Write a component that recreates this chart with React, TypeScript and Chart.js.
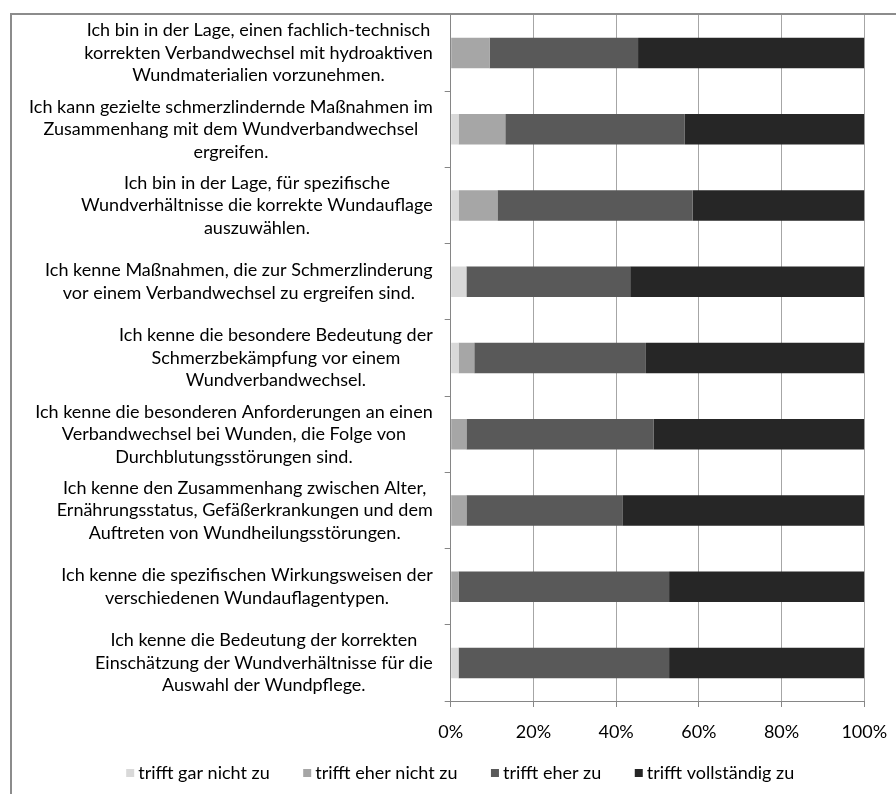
import React, { useEffect, useRef } from "react";
import { Chart, registerables } from "chart.js";

Chart.register(...registerables);

// ---- data ----
const categories: string[][] = [
  ["Ich bin in der Lage, einen fachlich-technisch", "korrekten Verbandwechsel mit hydroaktiven", "Wundmaterialien vorzunehmen."],
  ["Ich kann gezielte schmerzlindernde Maßnahmen im", "Zusammenhang mit dem Wundverbandwechsel", "ergreifen."],
  ["Ich bin in der Lage, für spezifische", "Wundverhältnisse die korrekte Wundauflage", "auszuwählen."],
  ["Ich kenne Maßnahmen, die zur Schmerzlinderung", "vor einem Verbandwechsel zu ergreifen sind."],
  ["Ich kenne die besondere Bedeutung der", "Schmerzbekämpfung vor einem", "Wundverbandwechsel."],
  ["Ich kenne die besonderen Anforderungen an einen", "Verbandwechsel bei Wunden, die Folge von", "Durchblutungsstörungen sind."],
  ["Ich kenne den Zusammenhang zwischen Alter,", "Ernährungsstatus, Gefäßerkrankungen und dem", "Auftreten von Wundheilungsstörungen."],
  ["Ich kenne die spezifischen Wirkungsweisen der", "verschiedenen Wundauflagentypen."],
  ["Ich kenne die Bedeutung der korrekten", "Einschätzung der Wundverhältnisse für die", "Auswahl der Wundpflege."],
];

const seriesNames = ["trifft gar nicht zu", "trifft eher nicht zu", "trifft eher zu", "trifft vollständig zu"];
const trifftGarNichtZu = [0, 1.9, 1.9, 3.8, 1.9, 0, 0, 0, 1.9];
const trifftEherNichtZu = [9.4, 11.3, 9.4, 0, 3.8, 3.8, 3.8, 1.9, 0];
const trifftEherZu = [35.9, 43.4, 47.2, 39.6, 41.5, 45.3, 37.7, 50.9, 50.9];
const trifftVollstaendigZu = [54.7, 43.4, 41.5, 56.6, 52.8, 50.9, 58.5, 47.2, 47.2];
const seriesColors = ["#d9d9d9", "#a6a6a6", "#595959", "#262626"];
const xMin = 0;
const xMax = 100;
const xStep = 20;

// ---- styles ----
const FONT_FAMILY = "Lato";
const FONT_SIZE = 18;
const LEGEND_FONT_SIZE = 18;
const LINE_H = 22.5;
const CANVAS_W = 884;
const CANVAS_H = 779;

// labels to the left of the axis: each label block centred on itself,
// widest line right-aligned next to the axis
const centeredYLabels = {
  id: "centeredYLabels",
  afterDraw(chart: any) {
    const yScale = chart.scales.y;
    const ctx = chart.ctx as CanvasRenderingContext2D;
    const labels = chart.data.labels as string[][];
    ctx.save();
    ctx.font = `${FONT_SIZE}px ${FONT_FAMILY}`;
    ctx.fillStyle = "#000";
    ctx.textBaseline = "middle";
    ctx.textAlign = "center";
    const right = chart.chartArea.left - 18;
    labels.forEach((lines, i) => {
      const cy = yScale.getPixelForValue(i);
      const maxW = Math.max(...lines.map((l) => ctx.measureText(l).width));
      const cx = right - maxW / 2;
      lines.forEach((l, j) => {
        ctx.fillText(l, cx, cy + (j - (lines.length - 1) / 2) * LINE_H);
      });
    });
    ctx.restore();
  },
};

// bottom legend in the style of the original (small squares, wide gaps)
const bottomLegend = {
  id: "bottomLegend",
  afterDraw(chart: any) {
    const ctx = chart.ctx as CanvasRenderingContext2D;
    const ds = chart.data.datasets;
    const box = 8;
    const boxGap = 4;
    const itemGap = 33.5;
    const centerX = 448.2;
    const centerY = 758;
    ctx.save();
    ctx.font = `${LEGEND_FONT_SIZE}px ${FONT_FAMILY}`;
    ctx.textBaseline = "middle";
    ctx.textAlign = "left";
    const widths = ds.map((d: any) => box + boxGap + ctx.measureText(d.label).width);
    const total = widths.reduce((a: number, b: number) => a + b, 0) + itemGap * (ds.length - 1);
    let x = centerX - total / 2;
    ds.forEach((d: any, i: number) => {
      ctx.fillStyle = d.backgroundColor;
      ctx.fillRect(x, centerY - box / 2, box, box);
      ctx.fillStyle = "#000";
      ctx.fillText(d.label, x + box + boxGap, centerY);
      x += widths[i] + itemGap;
    });
    ctx.restore();
  },
};

export default function App() {
  const canvasRef = useRef<HTMLCanvasElement | null>(null);

  useEffect(() => {
    document.body.style.overflow = "hidden";
    const canvas = canvasRef.current;
    if (!canvas) return;
    const font = { family: FONT_FAMILY, size: FONT_SIZE };
    const values = [trifftGarNichtZu, trifftEherNichtZu, trifftEherZu, trifftVollstaendigZu];
    const chart = new Chart(canvas, {
      type: "bar",
      data: {
        labels: categories,
        datasets: seriesNames.map((name, i) => ({
          label: name,
          data: values[i],
          backgroundColor: seriesColors[i],
          borderWidth: 0,
          barPercentage: 0.4,
          categoryPercentage: 1,
        })),
      },
      options: {
        indexAxis: "y",
        animation: false,
        responsive: false,
        maintainAspectRatio: false,
        devicePixelRatio: 1,
        layout: { padding: { left: 0, right: 31.7, top: 0, bottom: 48 } },
        scales: {
          x: {
            stacked: true,
            min: xMin,
            max: xMax,
            ticks: {
              stepSize: xStep,
              callback: (v: any) => `${v}%`,
              font,
              color: "#000",
              padding: 14,
              maxRotation: 0,
            },
            grid: { color: "#a6a6a6", tickLength: 6, tickColor: "#868686" },
            border: { color: "#868686" },
            afterFit: (s: any) => {
              s.height = 45;
              s.paddingLeft = 0;
              s.paddingRight = 0;
            },
          },
          y: {
            stacked: true,
            ticks: { display: false },
            grid: { drawOnChartArea: false, tickLength: 6, color: "#868686", offset: true },
            border: { color: "#868686" },
            afterFit: (s: any) => {
              s.width = 438.7;
              s.paddingTop = 0;
              s.paddingBottom = 0;
            },
          },
        },
        plugins: {
          legend: { display: false },
          tooltip: { enabled: false },
        },
      },
      plugins: [centeredYLabels, bottomLegend],
    });
    return () => chart.destroy();
  }, []);

  return (
    <div
      style={{
        position: "absolute",
        left: 10,
        top: 13,
        width: 886,
        height: 781,
        boxSizing: "border-box",
        borderLeft: "2px solid #8c8c8c",
        borderTop: "2px solid #8c8c8c",
        background: "#fff",
        overflow: "hidden",
      }}
    >
      <canvas ref={canvasRef} width={CANVAS_W} height={CANVAS_H} style={{ display: "block" }} />
    </div>
  );
}
